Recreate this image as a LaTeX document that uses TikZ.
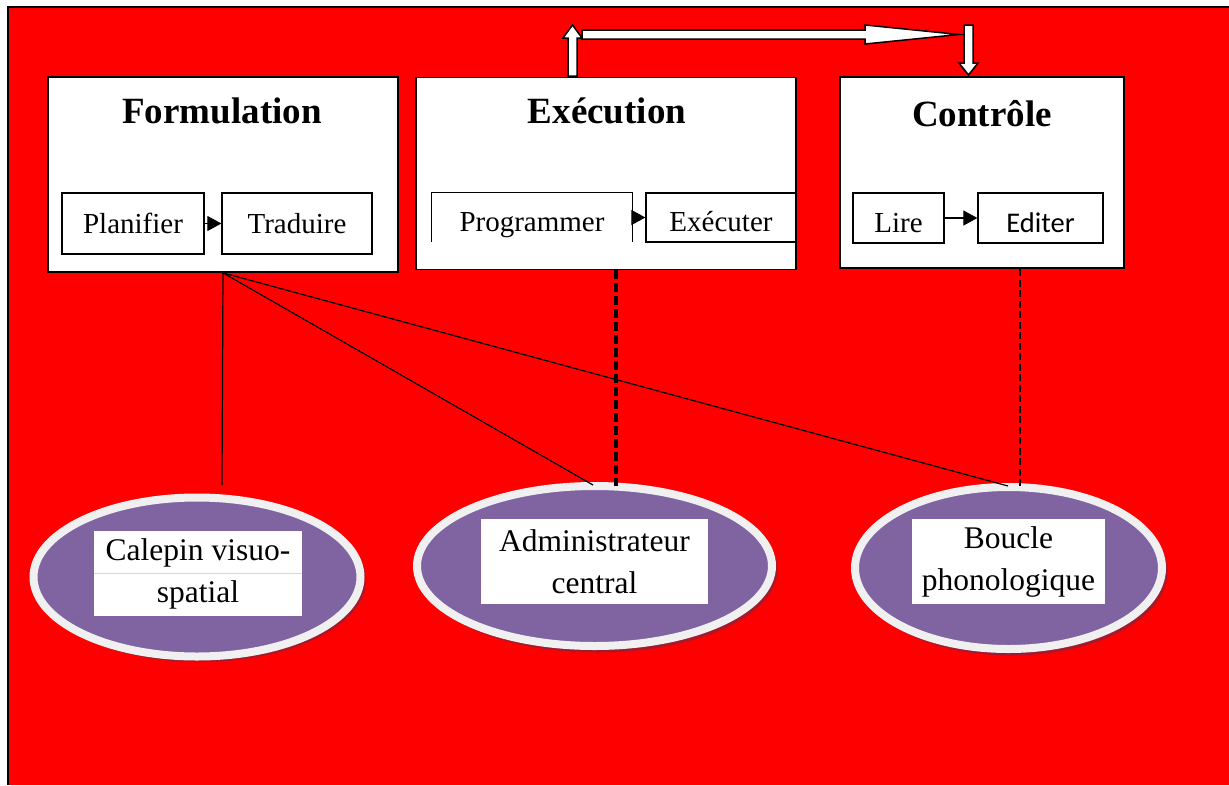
\documentclass[tikz,border=0pt]{standalone}
\usepackage{fontspec}
\setmainfont{Liberation Serif}
\newfontfamily\calfont{Carlito}
\usetikzlibrary{arrows.meta,shapes.geometric}
\definecolor{bgred}{RGB}{255,0,0}
\definecolor{lilac}{RGB}{128,100,162}
\definecolor{ringgray}{RGB}{240,240,240}
\definecolor{shadowred}{RGB}{165,25,45}
% sets its text a little below the middle of its box
\newcommand{\lowered}[2][12pt]{\raisebox{0pt}[\dimexpr\height+#1\relax][\depth]{#2}}
\tikzset{
  stagebox/.style={draw=black,line width=1.8pt,fill=white,inner sep=0pt},
  stagetitle/.style={font=\fontsize{37}{40}\selectfont\bfseries,inner sep=0pt},
  subbox/.style={draw=black,line width=1.3pt,fill=white,inner sep=0pt,
    font=\fontsize{29}{34}\selectfont},
  memory/.style={ellipse,draw=ringgray,line width=8pt,fill=lilac,inner sep=0pt},
  memshadow/.style={ellipse,fill=shadowred,inner sep=0pt},
  memlabel/.style={fill=white,inner sep=0pt,align=center,
    font=\fontsize{31.5}{42}\selectfont},
  link/.style={draw=black,line width=1.2pt},
  tip/.style={-{Triangle[length=14pt,width=15pt]},line width=1.2pt},
  blockarrow/.style={draw=black,line width=1.5pt,fill=white,line join=miter}
}
\begin{document}
\begin{tikzpicture}[x=1pt,y=-1pt]
\useasboundingbox (0,0) rectangle (1229,785);
% page background
\fill[bgred] (8,7) rectangle (1229,785);
\draw[black,line width=1.5pt] (8,785) -- (8,7) -- (1229,7);

% three stages
\node[stagebox,minimum width=350,minimum height=195] (form) at (223,174.5) {};
\node[stagebox,minimum width=380,minimum height=192] (exec) at (606,173.5) {};
\node[stagebox,minimum width=284,minimum height=191] (ctrl) at (982,172.5) {};
\node[stagetitle] (formT) at (222,111) {Formulation};
\node[stagetitle] (execT) at (607,111) {Exécution};
\node[stagetitle] (ctrlT) at (982,114) {Contrôle};

% sub-processes of Formulation
\node[subbox,minimum width=142,minimum height=61] (plan) at (133,223.5) {Planifier};
\node[subbox,minimum width=150,minimum height=61] (trad) at (297,223.5) {Traduire};
\draw[tip] (plan.east) -- (trad.west);

% sub-processes of Exécution
\node[fill=white,inner sep=0pt,minimum width=200,minimum height=49,
  font=\fontsize{29}{34}\selectfont] (prog) at (532,217.5) {\lowered[16pt]{Programmer}};
\draw[black,line width=1.3pt] (prog.south west) -- (prog.north west)
  -- (prog.north east) -- (prog.south east);
\node[subbox,minimum width=150,minimum height=49] (exe) at (721,217.5) {\lowered[8pt]{Exécuter}};
\draw[tip] (prog.east) -- (exe.west);

% sub-processes of Contrôle
\node[subbox,minimum width=91,minimum height=50] (lire) at (898.5,218) {\lowered[10pt]{Lire}};
\node[subbox,minimum width=125,minimum height=50,font=\calfont\fontsize{28.5}{34}\selectfont]
  (edit) at (1040.5,218) {\lowered[10pt]{Editer}};
\draw[tip] (lire.east) -- (edit.west);

% feedback loop between Exécution and Contrôle
\draw[blockarrow] (568,76) -- (568,38) -- (563,38) -- (572.5,25) -- (582,38)
  -- (577,38) -- (577,76) -- cycle;
\draw[blockarrow] (582,30) -- (865,30) -- (865,25) -- (959,34.5) -- (865,44)
  -- (865,39) -- (582,39) -- cycle;
\draw[blockarrow] (964,25) -- (973,25) -- (973,63) -- (978,63) -- (968.5,75)
  -- (959,63) -- (964,63) -- cycle;

% working memory components
\node[memshadow,minimum width=332,minimum height=164] at (200,580) {};
\node[memory,minimum width=327,minimum height=159] (cal) at (197,577) {};
\node[memlabel,minimum width=208,minimum height=85] (calT) at (198,573.5)
  {Calepin visuo-\\spatial};
\draw[ringgray!80!lilac,line width=0.8pt] (calT.west) -- (calT.east);

\node[memshadow,minimum width=360,minimum height=166] at (597.5,569.5) {};
\node[memory,minimum width=355,minimum height=160] (adm) at (594.5,566) {};
\node[memlabel,minimum width=227,minimum height=85] (admT) at (594.5,561.5)
  {Administrateur\\central};

\node[memshadow,minimum width=312,minimum height=168] at (1011.5,571.5) {};
\node[memory,minimum width=307,minimum height=162] (bou) at (1008.5,568) {};
\node[memlabel,minimum width=193,minimum height=85] (bouT) at (1008.5,561.5)
  {Boucle\\phonologique};

% links from the stages to the memory components
\coordinate (hub) at (form.south);
\coordinate (calTop) at (222,485);
\coordinate (admTop) at (593,485);
\coordinate (bouTop) at (1008,486);
\draw[link] (hub) -- (calTop);
\draw[link] (hub) -- (admTop);
\draw[link] (hub) -- (bouTop);
\coordinate (execFoot) at (616,270);
\coordinate (admDash) at (616,486);
\draw[black,line width=3.5pt,dash pattern=on 9pt off 4pt] (execFoot) -- (admDash);
\coordinate (ctrlFoot) at (1020,269);
\coordinate (bouDash) at (1020,487);
\draw[black,line width=1.8pt,dash pattern=on 7pt off 3.5pt] (ctrlFoot) -- (bouDash);
\end{tikzpicture}
\end{document}
